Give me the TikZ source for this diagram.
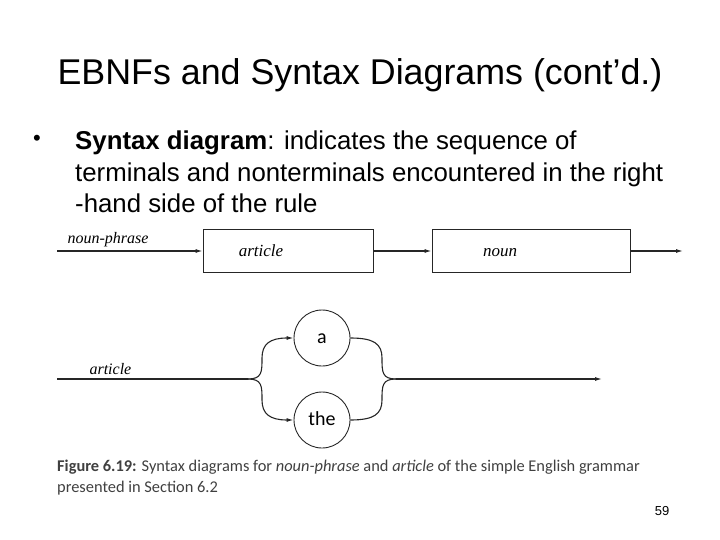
\documentclass[tikz,border=0pt]{standalone}
\usepackage{fontspec}
\setmainfont{Liberation Sans}
\newfontfamily\capfont{Carlito}
\newfontfamily\serifit{Liberation Serif}
\usetikzlibrary{arrows.meta}
\begin{document}
\begin{tikzpicture}[x=1pt,y=-1pt,
  ln/.style={line width=1.1pt,draw=black!85},
  arr/.style={ln,-{Latex[length=7pt,width=4pt]}},
  boxn/.style={draw=black!85,line width=0.9pt,minimum width=170pt,minimum height=43pt},
  boxt/.style={anchor=base,font=\serifit\itshape\fontsize{17}{17}\selectfont},
  circn/.style={draw=black!85,line width=0.9pt,circle,minimum size=56pt,text height=12pt,text depth=2pt,font=\capfont\fontsize{20}{20}\selectfont}]
\useasboundingbox (0,0) rectangle (720,540);
\node (title) at (360,75) {\fontsize{35.8}{36}\selectfont EBNFs and Syntax Diagrams (cont’d.)};
\node (bul) at (37,140) {\fontsize{22}{22}\selectfont •};
\node[anchor=west,align=left,font=\fontsize{25.8}{31.5}\selectfont,inner sep=0pt] (txt) at (75,172)
 {\textbf{Syntax diagram}: indicates the sequence of\\terminals and nonterminals encountered in the right\\-hand side of the rule};
% top diagram
\coordinate (s1) at (57,251);
\node[boxn] (art) at (288,251) {};
\node[boxn,minimum width=198pt] (noun) at (531,251) {};
\node[boxt] (artt) at (261,256) {article};
\node[boxt] (nount) at (500,256) {noun};
\coordinate (e1) at (683,251);
\draw[arr] (s1) -- (art);
\draw[arr] (art) -- (noun);
\draw[arr] (noun) -- (e1);
\node[font=\serifit\itshape\fontsize{16}{16}\selectfont,anchor=west] (np) at (64,240) {noun-phrase};
% bottom diagram
\coordinate (s2) at (57,379);
\coordinate (f1) at (248,379);
\coordinate (f2) at (396,379);
\coordinate (e2) at (602,379);
\node[circn] (a) at (322,338) {a};
\node[circn] (the) at (322,420) {the};
\node[font=\serifit\itshape\fontsize{16}{16}\selectfont,anchor=west] (al) at (86,369) {article};
\draw[ln] (s2) -- (f1);
\draw[arr] (f1) .. controls (262,379) and (262,372) .. (262,358) .. controls (262,344) and (270,338) .. (a.west);
\draw[arr] (f1) .. controls (262,379) and (262,386) .. (262,400) .. controls (262,414) and (270,420) .. (the.west);
\draw[ln] (a.east) .. controls (374,338) and (382,344) .. (382,358) .. controls (382,372) and (382,379) .. (f2);
\draw[ln] (the.east) .. controls (374,420) and (382,414) .. (382,400) .. controls (382,386) and (382,379) .. (f2);
\draw[arr] (f2) -- (e2);
% caption
\node[anchor=west,align=left,text=black!75,font=\capfont\fontsize{16.4}{21}\selectfont,inner sep=0pt] (cap) at (57,478)
 {\textbf{Figure 6.19:} Syntax diagrams for \textit{noun-phrase} and \textit{article} of the simple English grammar\\presented in Section 6.2};
\node (pg) at (662,511) {\fontsize{13}{13}\selectfont 59};
\end{tikzpicture}
\end{document}
